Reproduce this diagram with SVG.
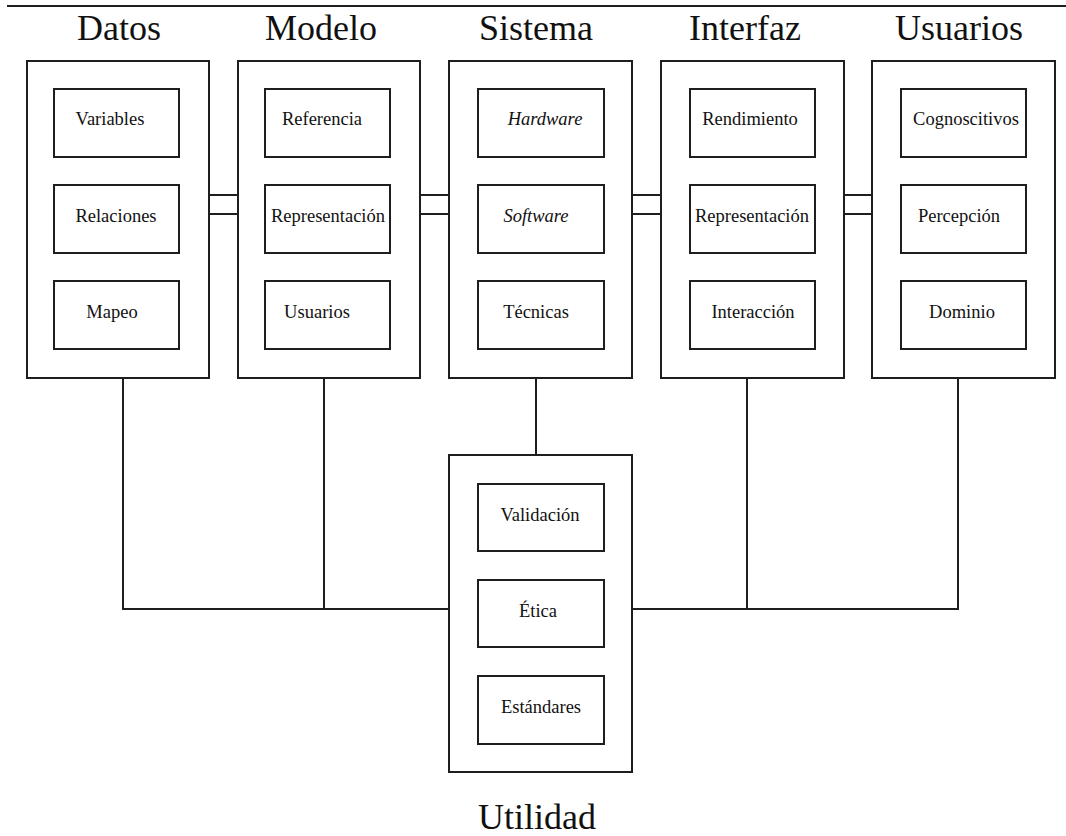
<svg xmlns="http://www.w3.org/2000/svg" width="1066" height="836" viewBox="0 0 1066 836">
<style>
.bg{fill:#fff}
.ob,.ib{fill:none;stroke:#1e1e1e;stroke-width:2}
.ln{fill:none;stroke:#1e1e1e;stroke-width:2}
.t{font-family:"Liberation Serif","Times New Roman",serif;font-size:36px;fill:#111;text-anchor:middle}
.l{font-family:"Liberation Serif","Times New Roman",serif;font-size:18.5px;fill:#111;text-anchor:middle}
.it{font-style:italic}
</style>
<rect class="bg" x="0" y="0" width="1066" height="836"/>
<line class="ln" x1="7" y1="6" x2="1066" y2="6"/>
<g id="connectors">
<path class="ln" d="M209 195H238M209 214H238M420 195H449M420 214H449M632 195H661M632 214H661M844 195H872M844 214H872"/>
<path class="ln" d="M123 378V609H449M324 378V609M536 378V455M958 378V609H632M747 378V609"/>
</g>
<g id="datos">
<text class="t" x="119" y="40">Datos</text>
<rect class="ob" x="27" y="61" width="182" height="317"/>
<rect class="ib" x="54" y="89" width="125" height="68"/>
<text class="l" x="110" y="125">Variables</text>
<rect class="ib" x="54" y="185" width="125" height="68"/>
<text class="l" x="116" y="222">Relaciones</text>
<rect class="ib" x="54" y="281" width="125" height="68"/>
<text class="l" x="112" y="318">Mapeo</text>
</g>
<g id="modelo">
<text class="t" x="321" y="40">Modelo</text>
<rect class="ob" x="238" y="61" width="182" height="317"/>
<rect class="ib" x="265" y="89" width="125" height="68"/>
<text class="l" x="322" y="125">Referencia</text>
<rect class="ib" x="265" y="185" width="125" height="68"/>
<text class="l" x="328" y="222">Representación</text>
<rect class="ib" x="265" y="281" width="125" height="68"/>
<text class="l" x="317" y="318">Usuarios</text>
</g>
<g id="sistema">
<text class="t" x="536" y="40">Sistema</text>
<rect class="ob" x="449" y="61" width="183" height="317"/>
<rect class="ib" x="478" y="89" width="126" height="68"/>
<text class="l it" x="545" y="125">Hardware</text>
<rect class="ib" x="478" y="185" width="126" height="68"/>
<text class="l it" x="536" y="222">Software</text>
<rect class="ib" x="478" y="281" width="126" height="68"/>
<text class="l" x="536" y="318">Técnicas</text>
</g>
<g id="interfaz">
<text class="t" x="745" y="40">Interfaz</text>
<rect class="ob" x="661" y="61" width="183" height="317"/>
<rect class="ib" x="690" y="89" width="125" height="68"/>
<text class="l" x="750" y="125">Rendimiento</text>
<rect class="ib" x="690" y="185" width="125" height="68"/>
<text class="l" x="752" y="222">Representación</text>
<rect class="ib" x="690" y="281" width="125" height="68"/>
<text class="l" x="753" y="318">Interacción</text>
</g>
<g id="usuarios">
<text class="t" x="959" y="40">Usuarios</text>
<rect class="ob" x="872" y="61" width="183" height="317"/>
<rect class="ib" x="901" y="89" width="125" height="68"/>
<text class="l" x="966" y="125">Cognoscitivos</text>
<rect class="ib" x="901" y="185" width="125" height="68"/>
<text class="l" x="959" y="222">Percepción</text>
<rect class="ib" x="901" y="281" width="125" height="68"/>
<text class="l" x="962" y="318">Dominio</text>
</g>
<g id="utilidad">
<rect class="ob" x="449" y="455" width="183" height="317"/>
<rect class="ib" x="478" y="484" width="126" height="67"/>
<text class="l" x="540" y="521">Validación</text>
<rect class="ib" x="478" y="580" width="126" height="67"/>
<text class="l" x="538" y="617">Ética</text>
<rect class="ib" x="478" y="676" width="126" height="68"/>
<text class="l" x="541" y="713">Estándares</text>
<text class="t" x="537" y="829">Utilidad</text>
</g>
</svg>
